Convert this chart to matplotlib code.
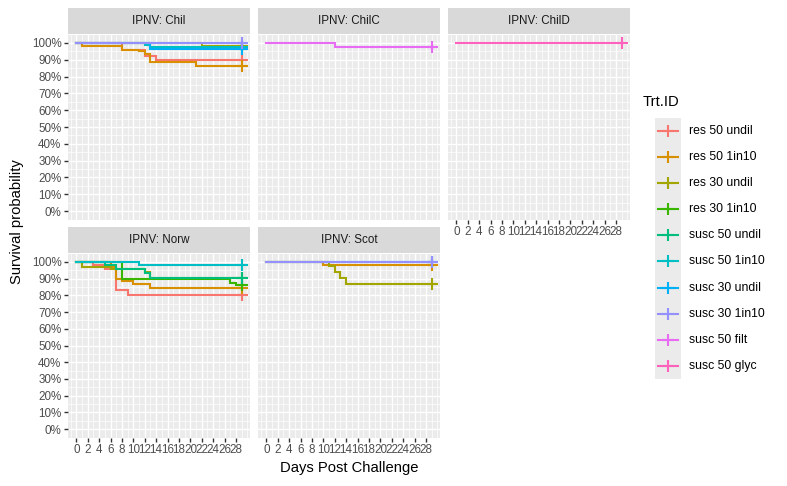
import matplotlib
matplotlib.use("Agg")
import matplotlib.pyplot as plt
from matplotlib.lines import Line2D

plt.rcParams['font.family'] = ['Liberation Sans', 'DejaVu Sans']

# ---------------- data ----------------
groups = ["res 50 undil", "res 50 1in10", "res 30 undil", "res 30 1in10",
          "susc 50 undil", "susc 50 1in10", "susc 30 undil", "susc 30 1in10",
          "susc 50 filt", "susc 50 glyc"]
colors = ["#F8766D", "#D89000", "#A3A500", "#39B600", "#00BF7D",
          "#00BFC4", "#00B0F6", "#9590FF", "#E76BF3", "#FF62BC"]
panel_titles = ["IPNV: Chil", "IPNV: ChilC", "IPNV: ChilD", "IPNV: Norw", "IPNV: Scot"]
end_day = 29
x_ticks = list(range(0, 29, 2))
y_ticks = [0.0, 0.1, 0.2, 0.3, 0.4, 0.5, 0.6, 0.7, 0.8, 0.9, 1.0]
y_labels = ["0%", "10%", "20%", "30%", "40%", "50%", "60%", "70%", "80%", "90%", "100%"]

# group -> (event days, survival after each event)
chil = {
    "res 50 undil": ([8, 12, 14], [0.96, 0.925, 0.90]),
    "res 50 1in10": ([1, 8, 11, 12, 13, 21], [0.98, 0.96, 0.95, 0.935, 0.885, 0.865]),
    "res 30 undil": ([22], [0.98]),
    "susc 50 1in10": ([12, 13], [0.985, 0.975]),
    "susc 30 undil": ([13], [0.965]),
    "susc 30 1in10": ([], []),
}
chilc = {
    "susc 50 filt": ([12], [0.975]),
}
child = {
    "susc 50 glyc": ([], []),
}
norw = {
    "res 50 undil": ([3, 5, 7, 9], [0.98, 0.96, 0.83, 0.80]),
    "res 50 1in10": ([6, 7, 8, 10, 13], [0.97, 0.90, 0.885, 0.865, 0.845]),
    "res 30 undil": ([1, 6, 12, 13], [0.97, 0.955, 0.94, 0.905]),
    "res 30 1in10": ([8, 27, 28], [0.90, 0.875, 0.86]),
    "susc 50 undil": ([5, 7, 12, 13], [0.98, 0.955, 0.935, 0.905]),
    "susc 50 1in10": ([11], [0.98]),
}
scot = {
    "res 50 1in10": ([10], [0.98]),
    "res 30 undil": ([11, 12, 13, 14], [0.975, 0.94, 0.905, 0.87]),
    "susc 30 undil": ([], []),
    "susc 30 1in10": ([], []),
}
panel_data = [chil, chilc, child, norw, scot]

# ---------------- layout (pixels) ----------------
W, H = 787, 486
fig = plt.figure(figsize=(W / 100, H / 100), dpi=100)

cols = [(68, 250), (258, 440), (448, 630)]
rows = [(34.5, 219.5), (253.5, 437.5)]
strip_h = 27

def px_axes(x0, y0, x1, y1, **kw):
    return fig.add_axes([x0 / W, 1 - y1 / H, (x1 - x0) / W, (y1 - y0) / H], **kw)

PANEL_BG = "#EBEBEB"
STRIP_BG = "#D9D9D9"
TXT = "#4D4D4D"
positions = [(0, 0), (0, 1), (0, 2), (1, 0), (1, 1)]
bottom_of_col = {0: 1, 1: 1, 2: 0}

for idx, (title, data) in enumerate(zip(panel_titles, panel_data)):
    r, c = positions[idx]
    x0, x1 = cols[c]
    y0, y1 = rows[r]
    ax = px_axes(x0, y0, x1, y1)
    ax.set_facecolor(PANEL_BG)
    ax.set_xlim(-0.05 * end_day, end_day * 1.05)
    ax.set_ylim(-0.05, 1.05)
    for s in ax.spines.values():
        s.set_visible(False)
    # grid
    for v in range(-1, 31):
        lw = 1.0 if (v % 2 == 0 and 0 <= v <= 28) else 0.5
        ax.axvline(v, color="white", lw=lw, zorder=0.5)
    for k in range(0, 21):
        yv = k * 0.05
        lw = 1.0 if k % 2 == 0 else 0.5
        ax.axhline(yv, color="white", lw=lw, zorder=0.5)
    ax.set_xticks(x_ticks)
    ax.set_yticks(y_ticks)
    ax.tick_params(axis="both", length=2.7, width=1.0, color="#333333",
                   labelsize=8.4, labelcolor=TXT, pad=2.0)
    if c == 0:
        ax.set_yticklabels(y_labels)
    else:
        ax.tick_params(axis="y", length=0, labelleft=False)
    if bottom_of_col[c] == r:
        ax.set_xticklabels([str(t) for t in x_ticks])
    else:
        ax.tick_params(axis="x", length=0, labelbottom=False)
    # curves
    for g, col in zip(groups, colors):
        if g not in data:
            continue
        t, s = data[g]
        xs = [0] + list(t) + [end_day]
        ys = [1.0] + list(s) + [s[-1] if s else 1.0]
        ax.step(xs, ys, where="post", color=col, lw=1.5, zorder=2,
                solid_joinstyle="miter")
        ax.plot([end_day], [ys[-1]], marker="+", ms=8, mew=1.5, color=col,
                zorder=3, clip_on=False)
    # strip
    sx = px_axes(x0, y0 - strip_h, x1, y0 - 0.5)
    sx.set_facecolor(STRIP_BG)
    sx.set_xticks([]); sx.set_yticks([])
    for s in sx.spines.values():
        s.set_visible(False)
    sx.text(0.5, 0.5, title, ha="center", va="center", fontsize=8.4,
            color="#1A1A1A", transform=sx.transAxes)

fig.text(349 / W, 1 - 468 / H, "Days Post Challenge", ha="center", va="center",
         fontsize=10.6, color="black")
fig.text(17 / W, 1 - 222 / H, "Survival probability", ha="center", va="center",
         rotation=90, fontsize=10.6, color="black")

# ---------------- legend ----------------
lg_x0, lg_x1 = 655, 681
item_y0 = 131
item_dy = 26.1
fig.text(643 / W, 1 - (item_y0 - 29) / H, "Trt.ID", ha="left", va="center",
         fontsize=10.6, color="black")
lax = px_axes(lg_x0, item_y0 - item_dy / 2, lg_x1, item_y0 + item_dy * 9.5)
lax.set_facecolor(PANEL_BG)
lax.set_xlim(lg_x0, lg_x1)
lax.set_ylim(item_y0 + item_dy * 9.5, item_y0 - item_dy / 2)
lax.set_xticks([]); lax.set_yticks([])
for s in lax.spines.values():
    s.set_visible(False)
for i, (g, col) in enumerate(zip(groups, colors)):
    yy = item_y0 + i * item_dy
    lax.plot([658, 678], [yy, yy], color=col, lw=1.5)
    lax.plot([668], [yy], marker="+", ms=8, mew=1.5, color=col)
    fig.text(689 / W, 1 - yy / H, g, ha="left", va="center", fontsize=8.8,
             color="black")

fig.savefig("out.png", dpi=100)
